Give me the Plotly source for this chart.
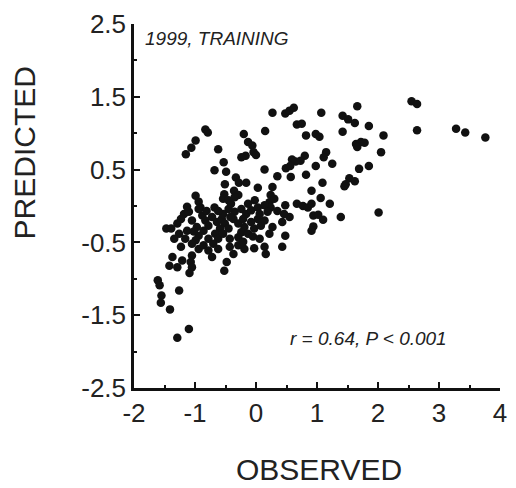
import plotly.graph_objects as go

observed = [
    2.55, 2.64, 2.64, 3.28, 3.43, 3.76, 1.66, 1.07, 1.42, 1.51, 1.62, 1.85, 1.42, 2.09, 2.05,
    0.67, 0.75, 0.82, 0.98, 1.04, 1.64, 1.72, 1.78, 1.66, 1.15, 1.11, 0.80, 0.73, 0.65, 0.59,
    0.49, 0.56, 0.98, 1.25, 1.69, 1.85, 0.35, 0.57, 0.82, 1.09, 1.53, 1.62, 1.47, 1.45,
    0.27, 0.24, 0.22, 0.24, 0.91, 1.06, 1.21, 0.48, 0.67, 0.77, 0.85, 0.91, 0.55, 0.94, 1.02,
    1.10, 1.39, 2.01, 0.94, 0.91, 0.48, 0.22, -0.19, -0.03, 0.14, 0.16, 0.43,
    0.27, 0.48, 0.55, 0.62, 0.15, -0.20, -0.13, -0.06, -0.04, -0.17, -0.24, 0.00,
    -0.83, -0.79, -0.99, -1.06, -1.15, -0.62, -0.53, -0.68, -0.49, 0.14, -0.33, -0.28, -0.16,
    -0.51, 0.03, -0.36, -0.29, -0.52, -0.54, -0.99, -0.94, -0.91, -0.68, -0.02, -0.45, -0.35,
    -1.18, -1.10, -1.23, -1.05, -1.47, -1.39, -0.88, -0.83, -0.78, -0.86, -0.94, -0.99,
    -0.72, -0.64, -0.56, -0.51, -0.59, -0.67, -0.62, -0.54, -0.45, -0.43, -0.35, -0.24,
    -0.16, -0.08, 0.03, 0.14, 0.30, 0.19, 0.03, -0.08, -0.19, -0.24, -0.29, -0.13, -0.03,
    0.08, 0.14, 0.46, 0.43, -0.43, -0.29, -1.23, -1.05, -0.94, -0.86, -0.78, -1.37, -1.21,
    -1.05, -1.07, -0.72, -0.48, -1.42, -1.29, -1.05, -0.52, -1.09, -0.94, -0.45,
    -0.78, -0.70, -0.37, -0.29, -0.21, -0.54, -0.42, -0.97, -1.13, -1.26, -1.34, -1.16, -1.02,
    -0.81, -0.62, -0.41, -0.13, 0.06, -0.05, 0.06, 0.27, 0.35, -0.21, -0.62, -0.37, -1.13, -1.29,
    -1.61, -1.58, -1.55, -1.56, -1.41, -1.26, -1.10, -1.29,
]
predicted = [
    1.44, 1.40, 1.04, 1.06, 1.01, 0.94, 1.37, 1.28, 1.24, 1.19, 1.14, 1.10, 1.02, 0.97, 0.74,
    1.12, 1.13, 0.97, 0.99, 0.95, 0.85, 0.88, 0.87, 0.81, 0.74, 0.67, 0.69, 0.62, 0.61, 0.64,
    0.52, 0.55, 0.55, 0.58, 0.51, 0.55, 0.41, 0.40, 0.43, 0.32, 0.38, 0.34, 0.30, 0.27,
    0.26, 0.15, 0.05, -0.02, 0.21, 0.11, 0.03, 0.01, 0.03, 0.00, -0.02, 0.03, -0.15, -0.13, -0.12,
    -0.19, -0.15, -0.09, -0.28, -0.34, -0.41, -0.38, -0.59, -0.58, -0.56, -0.66, -0.56,
    1.28, 1.27, 1.31, 1.35, 1.03, 0.99, 0.88, 0.83, 0.74, 0.69, 0.67, 0.70,
    1.05, 1.01, 0.90, 0.80, 0.71, 0.78, 0.60, 0.49, 0.47, 0.50, 0.39, 0.32, 0.32,
    0.30, 0.25, 0.21, 0.15, 0.16, 0.10, 0.14, 0.06, -0.02, -0.02, 0.08, 0.08, 0.12,
    -0.11, -0.08, -0.18, -0.20, -0.31, -0.31, -0.13, -0.20, -0.27, -0.34, -0.41, -0.47,
    -0.15, -0.22, -0.18, -0.24, -0.31, -0.38, -0.45, -0.38, -0.31, -0.45, -0.08, -0.04,
    -0.11, -0.06, -0.02, 0.01, 0.10, -0.08, -0.18, -0.22, -0.29, -0.36, -0.43, -0.38, -0.31,
    -0.27, -0.20, -0.11, -0.22, -0.56, -0.54, -0.56, -0.52, -0.59, -0.54, -0.61, -0.70, -0.75,
    -0.68, -0.77, -0.70, -0.77, -0.82, -0.84, -0.84, -0.89, -0.92, -0.04, -0.04,
    -0.45, -0.52, -0.18, -0.24, -0.18, -0.11, -0.15, -0.29, -0.34, -0.38, -0.45, -0.45, -0.35,
    -0.07, -0.07, 0.03, 0.03, -0.11, -0.42, -0.45, -0.29, -0.07, -0.49, -0.59, -0.66, -0.01, -0.24,
    -1.02, -1.09, -1.23, -1.33, -1.42, -1.16, -1.69, -1.81,
]

x_ticks = [-2, -1, 0, 1, 2, 3, 4]
x_tick_text = ["-2", "-1", "0", "1", "2", "3", "4"]
y_ticks = [-2.5, -1.5, -0.5, 0.5, 1.5, 2.5]
y_tick_text = ["-2.5", "-1.5", "-0.5", "0.5", "1.5", "2.5"]
x_minor = [-1.5, -0.5, 0.5, 1.5, 2.5, 3.5]
y_minor = [-2, -1, 0, 1, 2]

FONT = "Liberation Sans, Arial, sans-serif"

fig = go.Figure()
fig.add_trace(go.Scatter(
    x=observed, y=predicted, mode="markers",
    marker=dict(color="#111111", size=8.5, line=dict(width=0)),
    showlegend=False,
))

axis_common = dict(
    showline=True, linecolor="#111111", linewidth=2.5, mirror=False,
    showgrid=False, zeroline=False,
    ticks="inside", ticklen=6, tickwidth=2, tickcolor="#111111",
    tickfont=dict(family=FONT, size=26, color="#222222"),
)

fig.update_xaxes(
    range=[-2, 4], tickmode="array", tickvals=x_ticks, ticktext=x_tick_text,
    minor=dict(ticks="inside", ticklen=3, tickwidth=2, tickcolor="#111111",
               tickmode="array", tickvals=x_minor),
    **axis_common,
)
fig.update_yaxes(
    range=[-2.5, 2.5], tickmode="array", tickvals=y_ticks, ticktext=y_tick_text,
    minor=dict(ticks="inside", ticklen=3, tickwidth=2, tickcolor="#111111",
               tickmode="array", tickvals=y_minor),
    **axis_common,
)

fig.update_layout(
    width=516, height=488,
    margin=dict(l=134, r=9, t=24, b=100),
    paper_bgcolor="white", plot_bgcolor="white",
    font=dict(family=FONT, color="#222222"),
    annotations=[
        dict(text="<i>1999, TRAINING</i>", xref="paper", yref="paper",
             x=0.025, y=0.96, xanchor="left", yanchor="middle", showarrow=False,
             font=dict(family=FONT, size=19, color="#222222")),
        dict(text="<i>r = 0.64, P &lt; 0.001</i>", xref="paper", yref="paper",
             x=0.86, y=0.137, xanchor="right", yanchor="middle", showarrow=False,
             font=dict(family=FONT, size=19, color="#222222")),
        dict(text="OBSERVED", xref="paper", yref="paper",
             x=0.505, y=-0.225, xanchor="center", yanchor="middle", showarrow=False,
             font=dict(family=FONT, size=30, color="#222222")),
        dict(text="PREDICTED", xref="paper", yref="paper",
             x=-0.30, y=0.645, xanchor="center", yanchor="middle", showarrow=False,
             textangle=-90, font=dict(family=FONT, size=30, color="#222222")),
    ],
)

fig.write_html("out.html")
